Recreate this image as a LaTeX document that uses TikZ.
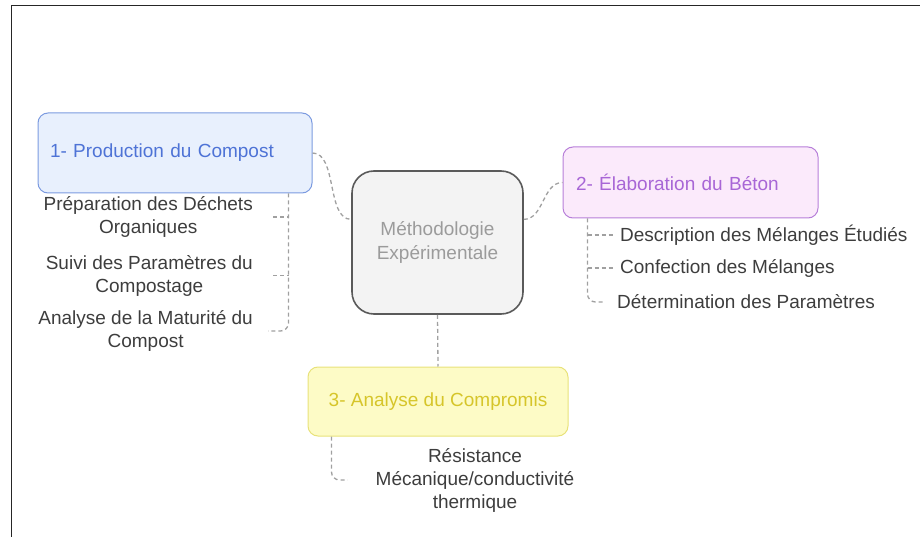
\documentclass[tikz,border=0pt]{standalone}
\usepackage{fontspec}
\setmainfont{Liberation Sans}
\usetikzlibrary{positioning,calc}

\definecolor{bluefill}{HTML}{E8F0FD}
\definecolor{blueline}{HTML}{7C9BE0}
\definecolor{bluetext}{HTML}{4E73D6}
\definecolor{violetfill}{HTML}{FBEAFB}
\definecolor{violetline}{HTML}{B77FD9}
\definecolor{violettext}{HTML}{A866D6}
\definecolor{yellowfill}{HTML}{FDFBC6}
\definecolor{yellowline}{HTML}{E8E27A}
\definecolor{yellowtext}{HTML}{D6C52A}
\definecolor{centerfill}{HTML}{F3F3F3}
\definecolor{centerline}{HTML}{5A5A5A}
\definecolor{centertext}{HTML}{9B9B9B}
\definecolor{itemgray}{HTML}{3D3D3D}
\definecolor{linkgray}{HTML}{A0A0A0}

\tikzset{
  topic/.style={rounded corners=10pt, line width=1pt, inner ysep=0pt, align=left},
  item/.style={text=itemgray, align=center, inner sep=0pt},
  link/.style={draw=linkgray, line width=1.3pt, dash pattern=on 4pt off 3pt}
}

\begin{document}
\begin{tikzpicture}[x=1pt, y=-1pt, every node/.style={font=\fontsize{19}{23}\selectfont}]
                    \useasboundingbox (0,0) rectangle (920,537);
                    \draw[line width=1pt, black!85] (11,537) -- (11,6) -- (920,6);

                    % central node
                    \node[draw=centerline, fill=centerfill, text=centertext, rounded corners=22pt, line width=1.6pt,
                          minimum width=171pt, minimum height=143pt, align=center,
                          font=\fontsize{19}{24}\selectfont] (methodo) at (437.5,242.5) {Méthodologie\\Expérimentale};

                    % three topics
                    \node[topic, draw=blueline, fill=bluefill, text=bluetext, text width=250pt, inner xsep=12pt,
                          minimum height=80pt] (prod) at (175,153) {1- Production du Compost};
                    \node[topic, draw=violetline, fill=violetfill, text=violettext, text width=229pt, inner xsep=13pt,
                          minimum height=71pt] (beton) at (690.5,182.5) {2- Élaboration du Béton};
                    \node[topic, draw=yellowline, fill=yellowfill, text=yellowtext, minimum width=260pt,
                          minimum height=69pt, align=center] (compromis) at (438,401.5) {3- Analyse du Compromis};

                    \draw[link] (prod.east) .. controls +(25,0) and +(-25,0) .. (methodo.165);
                    \draw[link] (methodo.15) .. controls +(20,0) and +(-20,0) .. (beton.west);
                    \draw[link] (methodo.south) -- (compromis.north);

                    % compost items
                    \node[item, anchor=east] (prep) at (253,217) {Préparation des Déchets\\Organiques};
                    \node[item, anchor=east] (suivi) at (253,275.5) {Suivi des Paramètres du\\Compostage};
                    \node[item, anchor=east] (maturite) at (253,331) {Analyse de la Maturité du\\Compost};
                    \coordinate (prodroot) at ($(prod.south east)+(-24,0)$);
                    \draw[link, rounded corners=8pt] (prodroot) |- ([xshift=15pt]maturite.east);
                    \draw[link] ([xshift=20pt]prep.east) -- (prep.east -| prodroot);
                    \draw[link] ([xshift=20pt]suivi.east) -- (suivi.east -| prodroot);

                    % beton items
                    \node[item, anchor=west] (description) at (620,235) {Description des Mélanges Étudiés};
                    \node[item, anchor=west] (confection) at (620,268) {Confection des Mélanges};
                    \node[item, anchor=west] (determination) at (617,302) {Détermination des Paramètres};
                    \coordinate (betonroot) at ($(beton.south west)+(25,0)$);
                    \draw[link, rounded corners=8pt] (betonroot) |- ([xshift=-12pt]determination.west);
                    \draw[link] (betonroot |- description.west) -- ([xshift=-6pt]description.west);
                    \draw[link] (betonroot |- confection.west) -- ([xshift=-6pt]confection.west);

                    % compromis item
                    \node[item] (resistance) at (475,480) {Résistance\\Mécanique/conductivité\\thermique};
                    \coordinate (comproot) at ($(compromis.south west)+(24,0)$);
                    \draw[link, rounded corners=8pt] (comproot) |- ([xshift=-28pt]resistance.west);
                \end{tikzpicture}
\end{document}
